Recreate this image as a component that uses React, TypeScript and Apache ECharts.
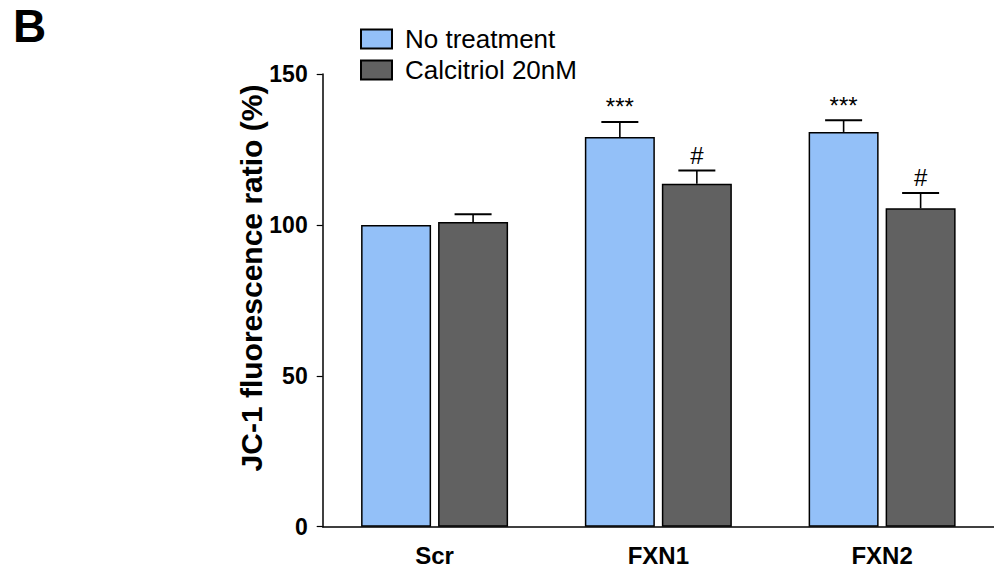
import React, { useEffect, useRef } from "react";
import * as echarts from "echarts";

const categories = ["Scr", "FXN1", "FXN2"];
const seriesNames = ["No treatment", "Calcitriol 20nM"];
const noTreatment = [100, 129.1, 130.8];
const noTreatmentErr = [0, 5.0, 3.9];
const noTreatmentMarks = ["", "***", "***"];
const calcitriol = [101.0, 113.6, 105.5];
const calcitriolErr = [2.5, 4.4, 5.1];
const calcitriolMarks = ["", "#", "#"];
const yTicks = [0, 50, 100, 150];
const yTitle = "JC-1 fluorescence ratio (%)";
const panelLetter = "B";

const FONT = '"Liberation Sans", Arial, sans-serif';
const BAR_W = 70;
const BAR_GAP = 7;
const BLUE = "#93C0F8";
const GREY = "#616161";

export default function App() {
  const ref = useRef<HTMLDivElement>(null);
  useEffect(() => {
    if (!ref.current) return;
    const chart = echarts.init(ref.current, undefined, { renderer: "svg" });

    const errData: any[] = [];
    categories.forEach((_, i) => {
      errData.push([i, noTreatment[i], noTreatmentErr[i], noTreatmentMarks[i], -1]);
      errData.push([i, calcitriol[i], calcitriolErr[i], calcitriolMarks[i], 1]);
    });

    const option: any = {
      animation: false,
      backgroundColor: "#ffffff",
      textStyle: { fontFamily: FONT, color: "#000" },
      graphic: [
        {
          type: "text",
          x: 13,
          y: 26,
          style: {
            text: panelLetter,
            font: `bold 46px ${FONT}`,
            fill: "#000",
            align: "left",
            verticalAlign: "middle",
          },
        },
        {
          type: "text",
          x: 251,
          y: 278,
          rotation: Math.PI / 2,
          style: {
            text: yTitle,
            font: `bold 30px ${FONT}`,
            fill: "#000",
            align: "center",
            verticalAlign: "middle",
          },
        },
      ],
      legend: {
        orient: "vertical",
        left: 355,
        top: 21,
        itemWidth: 31,
        itemHeight: 19,
        itemGap: 5,
        icon: "rect",
        textStyle: { fontSize: 26, fontFamily: FONT, color: "#000", padding: [0, 0, 0, 8] },
        data: seriesNames,
      },
      grid: { left: 322.7, right: -6, top: 74, bottom: 43.3, containLabel: false },
      xAxis: {
        type: "category",
        data: categories,
        axisLine: { lineStyle: { color: "#000", width: 1.5 } },
        axisTick: { alignWithLabel: true, length: 11, lineStyle: { color: "#000", width: 1.2 } },
        axisLabel: { fontSize: 24, fontWeight: "bold", fontFamily: FONT, color: "#000", margin: 17 },
      },
      yAxis: {
        type: "value",
        min: yTicks[0],
        max: yTicks[yTicks.length - 1],
        interval: yTicks[1] - yTicks[0],
        splitLine: { show: false },
        axisLine: { show: true, lineStyle: { color: "#000", width: 1.5 } },
        axisTick: { show: true, length: 6, lineStyle: { color: "#000", width: 1.2 } },
        axisLabel: { fontSize: 23, fontWeight: "bold", fontFamily: FONT, color: "#000", margin: 15 },
      },
      series: [
        {
          name: seriesNames[0],
          type: "bar",
          data: noTreatment,
          barWidth: BAR_W,
          barGap: `${(BAR_GAP / BAR_W) * 100}%`,
          itemStyle: { color: BLUE, borderColor: "#000", borderWidth: 1.5 },
        },
        {
          name: seriesNames[1],
          type: "bar",
          data: calcitriol,
          barWidth: BAR_W,
          barGap: `${(BAR_GAP / BAR_W) * 100}%`,
          itemStyle: { color: GREY, borderColor: "#000", borderWidth: 1.5 },
        },
        {
          type: "custom",
          data: errData,
          z: 5,
          clip: false,
          renderItem: (params: any, api: any) => {
            const idx = api.value(0);
            const val = api.value(1);
            const err = api.value(2);
            const mark = errData[params.dataIndex][3];
            const side = api.value(4);
            const off = (side * (BAR_W + BAR_GAP)) / 2;
            const base = api.coord([idx, val]);
            const top = api.coord([idx, val + err]);
            const x = base[0] + off;
            const children: any[] = [];
            if (err > 0) {
              children.push({
                type: "line",
                shape: { x1: x, y1: base[1], x2: x, y2: top[1] },
                style: { stroke: "#000", lineWidth: 1.6 },
              });
              children.push({
                type: "line",
                shape: { x1: x - 18.5, y1: top[1], x2: x + 18.5, y2: top[1] },
                style: { stroke: "#000", lineWidth: 2 },
              });
            }
            if (mark) {
              children.push({
                type: "text",
                x: x,
                y: top[1] - 3,
                style: {
                  text: mark,
                  font: `24px ${FONT}`,
                  fill: "#000",
                  align: "center",
                  verticalAlign: "bottom",
                },
              });
            }
            return { type: "group", children };
          },
        },
      ],
    };
    chart.setOption(option);
    return () => chart.dispose();
  }, []);

  return (
    <div
      ref={ref}
      style={{ position: "absolute", left: 0, top: 0, width: 994, height: 570 }}
    />
  );
}
